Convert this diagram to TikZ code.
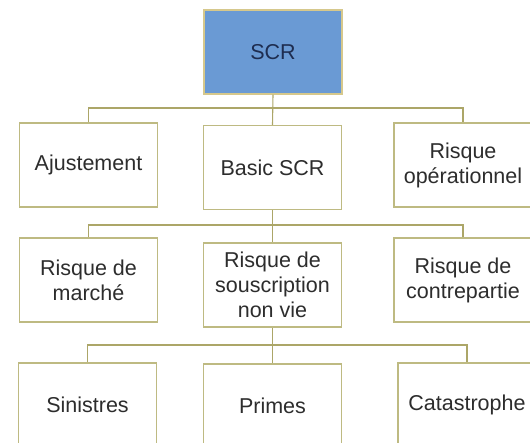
\documentclass[tikz,border=0pt]{standalone}
\usepackage{fontspec}
\setmainfont{Liberation Sans}
\usepackage{xcolor}
\usetikzlibrary{positioning}

\definecolor{scrblue}{RGB}{106,154,212}
\definecolor{scredge}{RGB}{214,200,140}
\definecolor{boxedge}{RGB}{190,186,130}
\definecolor{linkcol}{RGB}{172,166,104}
\definecolor{txtgray}{RGB}{45,45,45}
\definecolor{txtnavy}{RGB}{30,45,80}

\begin{document}
\begin{tikzpicture}[x=1pt, y=-1pt,
  font=\fontsize{21.5}{25}\selectfont,
  box/.style={draw=boxedge, fill=white, line width=1.3pt, minimum width=138pt, minimum height=84pt, inner sep=0pt, align=center, text=txtgray},
  topbox/.style={box, draw=scredge, fill=scrblue, text=txtnavy},
  conn/.style={draw=linkcol, line width=1.1pt}]
\useasboundingbox (0,0) rectangle (530,442);
\clip (0,0) rectangle (530,442);
% niveau 0
\node[topbox] (scr) at (273,52) {SCR};
% niveau 1
\node[box] (ajust) at (88.5,165) {Ajustement};
\node[box] (basic) at (272.5,167.5) {Basic SCR};
\node[box] (oper) at (463,165) {Risque\\op\'erationnel};
% niveau 2
\node[box] (marche) at (88.5,280) {Risque de\\march\'e};
\node[box] (souscr) at (272.5,285) {Risque de\\souscription\\non vie};
\node[box] (contre) at (463,280) {Risque de\\contrepartie};
% niveau 3
\node[box] (sinis) at (87.5,405) {Sinistres};
\node[box] (primes) at (272.5,406) {Primes};
\node[box] (catas) at (467,405) {Catastrophe};
% liaisons
\coordinate (bus1) at (272.5,108);
\coordinate (bus2) at (272.5,225);
\coordinate (bus3) at (272.5,345);
\draw[conn] (scr.south) -- (basic.north);
\draw[conn] (ajust.north) |- (bus1) -| (oper.north);
\draw[conn] (basic.south) -- (souscr.north);
\draw[conn] (marche.north) |- (bus2) -| (contre.north);
\draw[conn] (souscr.south) -- (primes.north);
\draw[conn] (sinis.north) |- (bus3) -| (catas.north);
\end{tikzpicture}
\end{document}
